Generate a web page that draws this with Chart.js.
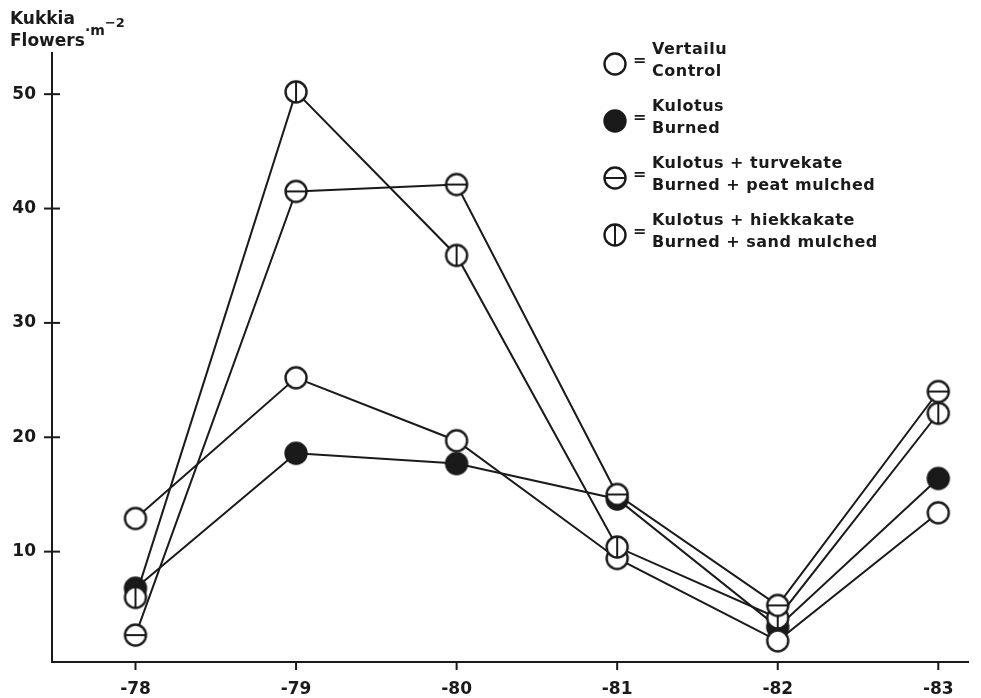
<!DOCTYPE html>
<html>
<head>
<meta charset="utf-8">
<script src="https://cdn.jsdelivr.net/npm/chart.js@4.4.1/dist/chart.umd.min.js"></script>
<style>
  html,body{margin:0;padding:0;background:#fff;}
  #wrap{position:relative;width:981px;height:698px;font-family:"DejaVu Sans",sans-serif;font-weight:bold;color:#1a1a1a;}
  #wrap canvas#chart{position:absolute;left:0;top:0;}
  .ylab{position:absolute;left:10px;top:7px;font-size:17px;line-height:22px;}
  .ylab .unit{position:absolute;left:75px;top:12px;font-size:14px;white-space:nowrap;}
  .ylab .unit span{position:relative;top:-8px;font-size:13px;}
  .leg{position:absolute;left:600px;top:30px;font-size:16px;}
  .item{position:relative;height:57px;}
  .item canvas{position:absolute;left:2px;top:21px;}
  .item .eq{position:absolute;left:33px;top:20px;font-size:16px;}
  .item .txt{position:absolute;left:52px;top:8px;line-height:22px;white-space:nowrap;letter-spacing:0.5px;}
</style>
</head>
<body>
<div id="wrap">
  <canvas id="chart" width="981" height="698"></canvas>
  <div class="ylab">Kukkia<br>Flowers<div class="unit">·m<span>−2</span></div></div>
  <div class="leg" id="legend"></div>
</div>
<script>
(function(){
  const years = ['-78','-79','-80','-81','-82','-83'];
  const yTicks = [10,20,30,40,50];
  const control = [12.9, 25.2, 19.7, 9.4, 2.2, 13.4];
  const burned  = [6.8, 18.6, 17.7, 14.6, 3.4, 16.4];
  const peat    = [2.7, 41.5, 42.1, 15.0, 5.3, 24.0];
  const sand    = [6.0, 50.2, 35.9, 10.4, 4.2, 22.1];
  const labelsFi = ['Vertailu','Kulotus','Kulotus + turvekate','Kulotus + hiekkakate'];
  const labelsEn = ['Control','Burned','Burned + peat mulched','Burned + sand mulched'];

  const ink = '#1a1a1a';
  const R = 11;

  const marker = (kind)=>{
    const c = document.createElement('canvas');
    const s = 2*R + 4; c.width = s; c.height = s;
    const g = c.getContext('2d'), m = s/2;
    g.beginPath(); g.arc(m, m, R-0.5, 0, Math.PI*2);
    g.fillStyle = kind === 'filled' ? ink : '#fff'; g.fill();
    g.lineWidth = 2.4; g.strokeStyle = ink; g.stroke();
    if (kind === 'h'){ g.beginPath(); g.moveTo(m-R, m); g.lineTo(m+R, m); g.lineWidth = 2; g.stroke(); }
    if (kind === 'v'){ g.beginPath(); g.moveTo(m, m-R); g.lineTo(m, m+R); g.lineWidth = 2; g.stroke(); }
    return c;
  };
  const kinds = ['open','filled','h','v'];

  const toPts = arr => arr.map((v,i)=>({x:i, y:v}));
  const ds = (data, kind, order)=>({
    data: toPts(data), borderColor: ink, borderWidth: 2, tension: 0,
    pointStyle: marker(kind), pointRadius: R, pointHoverRadius: R, order
  });

  const axisTicks = {
    id:'axisTicks',
    afterDraw(chart){
      const {ctx, scales:{x, y}, chartArea:a} = chart;
      ctx.save(); ctx.strokeStyle = ink; ctx.lineWidth = 2;
      yTicks.forEach(v=>{ const p = y.getPixelForValue(v); ctx.beginPath(); ctx.moveTo(a.left-8, p); ctx.lineTo(a.left+8, p); ctx.stroke(); });
      years.forEach((_,i)=>{ const p = x.getPixelForValue(i); ctx.beginPath(); ctx.moveTo(p, a.bottom); ctx.lineTo(p, a.bottom+8); ctx.stroke(); });
      ctx.restore();
    }
  };

  new Chart(document.getElementById('chart'), {
    type:'line',
    data:{ datasets:[ ds(control,'open',3), ds(burned,'filled',4), ds(peat,'h',1), ds(sand,'v',2) ] },
    options:{
      responsive:false, animation:false,
      layout:{ padding:{ top:53, right:6, left:0, bottom:0 } },
      plugins:{ legend:{ display:false }, tooltip:{ enabled:false } },
      scales:{
        x:{ type:'linear', min:-0.52, max:5.185,
            afterBuildTicks: s => { s.ticks = years.map((_,i)=>({value:i})); },
            afterFit: s => { s.height = 36; },
            grid:{ display:false, drawTicks:false },
            border:{ color:ink, width:2 },
            ticks:{ color:ink, padding:17, font:{ family:'DejaVu Sans', weight:'bold', size:17 }, callback: v => years[v] } },
        y:{ min:0.35, max:53.6,
            afterBuildTicks: s => { s.ticks = yTicks.map(v=>({value:v})); },
            afterFit: s => { s.width = 52; },
            grid:{ display:false, drawTicks:false },
            border:{ color:ink, width:2 },
            ticks:{ color:ink, padding:16, font:{ family:'DejaVu Sans', weight:'bold', size:17 } } }
      }
    },
    plugins:[axisTicks]
  });

  const leg = document.getElementById('legend');
  kinds.forEach((k,i)=>{
    const it = document.createElement('div'); it.className = 'item';
    it.appendChild(marker(k));
    const eq = document.createElement('div'); eq.className = 'eq'; eq.textContent = '=';
    const tx = document.createElement('div'); tx.className = 'txt'; tx.innerHTML = labelsFi[i] + '<br>' + labelsEn[i];
    it.appendChild(eq); it.appendChild(tx); leg.appendChild(it);
  });
})();
</script>
</body>
</html>
